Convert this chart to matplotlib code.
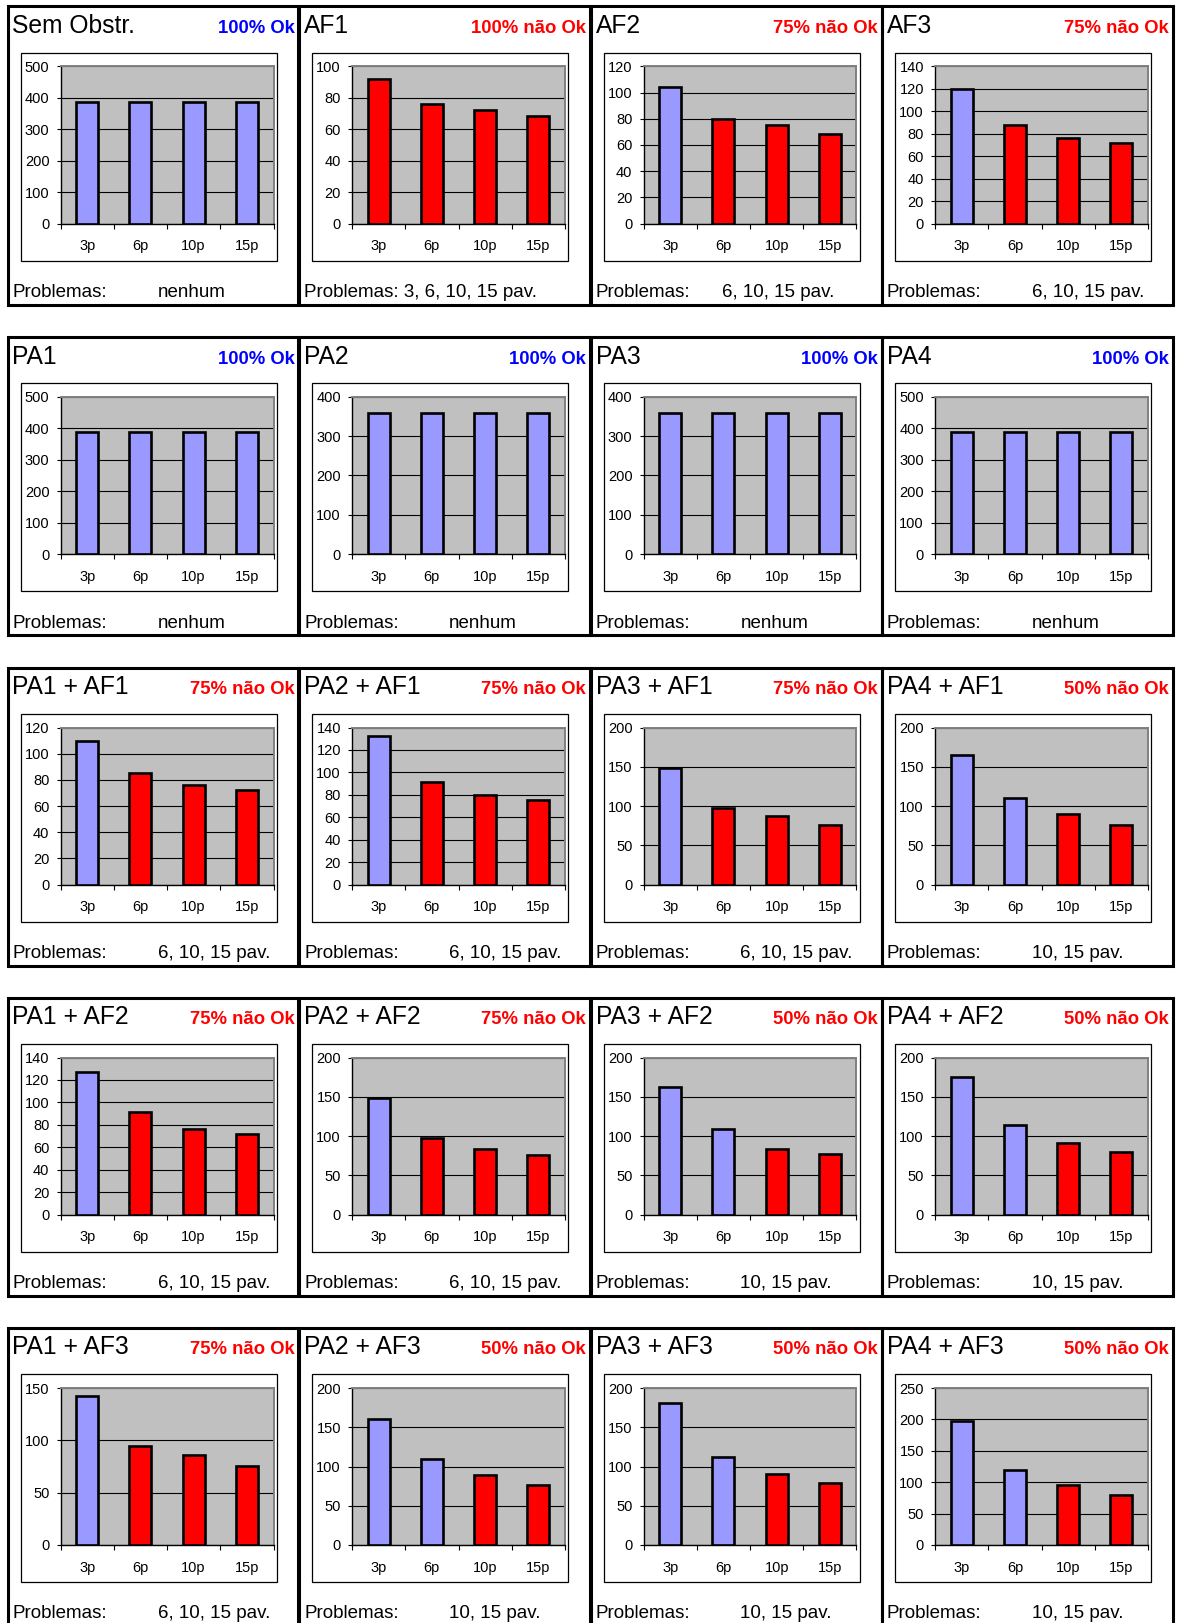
import matplotlib
matplotlib.use("Agg")
import matplotlib.pyplot as plt
from matplotlib.patches import Rectangle
from matplotlib.ticker import FixedLocator, MultipleLocator

plt.rcParams["font.family"] = ["Liberation Sans", "DejaVu Sans"]

# ---- data -------------------------------------------------------------
floors = ["3p", "6p", "10p", "15p"]
floor_numbers = [3, 6, 10, 15]

titles = [
    "Sem Obstr.", "AF1", "AF2", "AF3",
    "PA1", "PA2", "PA3", "PA4",
    "PA1 + AF1", "PA2 + AF1", "PA3 + AF1", "PA4 + AF1",
    "PA1 + AF2", "PA2 + AF2", "PA3 + AF2", "PA4 + AF2",
    "PA1 + AF3", "PA2 + AF3", "PA3 + AF3", "PA4 + AF3",
]

values = [
    [388, 388, 388, 388], [92, 76, 72, 68.5], [104, 80, 75.5, 68.5], [120, 88, 76, 72],
    [388, 388, 388, 388], [360, 360, 360, 360], [360, 360, 360, 360], [388, 388, 388, 388],
    [110, 85, 76, 72], [132, 91, 79.5, 75.5], [148, 97.5, 87.5, 75.5], [165.5, 110.5, 89.5, 76],
    [127, 91.5, 76.5, 72], [148, 98, 84, 75.5], [162, 108.5, 84, 76.5], [175, 114, 91, 79.5],
    [142.5, 95, 86, 75.5], [161, 109, 89, 76], [181, 112.5, 91, 79.5], [197.5, 119.5, 95, 79.5],
]

# 1 = floor passes, 0 = floor fails
ok_flags = [
    [1, 1, 1, 1], [0, 0, 0, 0], [1, 0, 0, 0], [1, 0, 0, 0],
    [1, 1, 1, 1], [1, 1, 1, 1], [1, 1, 1, 1], [1, 1, 1, 1],
    [1, 0, 0, 0], [1, 0, 0, 0], [1, 0, 0, 0], [1, 1, 0, 0],
    [1, 0, 0, 0], [1, 0, 0, 0], [1, 1, 0, 0], [1, 1, 0, 0],
    [1, 0, 0, 0], [1, 1, 0, 0], [1, 1, 0, 0], [1, 1, 0, 0],
]

y_max = [
    500, 100, 120, 140,
    500, 400, 400, 500,
    120, 140, 200, 200,
    140, 200, 200, 200,
    150, 200, 200, 250,
]
y_step = [
    100, 20, 20, 20,
    100, 100, 100, 100,
    20, 20, 50, 50,
    20, 50, 50, 50,
    50, 50, 50, 50,
]

# ---- styling ----------------------------------------------------------
W, H = 1178, 1623
COL_X = [7.5, 299, 590.5, 882]
ROW_Y = [6.5, 337, 667.5, 997.5, 1328]
PANEL_W, PANEL_H = 291, 298

BLUE_BAR = "#9999FF"
RED_BAR = "#FF0000"
PLOT_BG = "#C0C0C0"
OK_TEXT = "#0000FF"
BAD_TEXT = "#FF0000"

fig = plt.figure(figsize=(W / 100, H / 100), dpi=100)


def fx(x):
    return x / W


def fy(y):
    return 1 - y / H


def frame(x0, y0, x1, y1, lw, face="none", z=0):
    r = Rectangle((fx(x0), fy(y1)), (x1 - x0) / W, (y1 - y0) / H,
                  transform=fig.transFigure, facecolor=face,
                  edgecolor="black", linewidth=lw, zorder=z)
    fig.add_artist(r)


for idx, title in enumerate(titles):
    r, c = divmod(idx, 4)
    px, py = COL_X[c], ROW_Y[r]

    # panel outline and white chart box
    frame(px, py, px + PANEL_W, py + PANEL_H, 2.2, z=5)
    frame(px + 13, py + 46, px + 269, py + 254, 0.9, face="white", z=1)

    flags = ok_flags[idx]
    n_bad = flags.count(0)
    pct_bad = round(100 * n_bad / len(flags))
    if n_bad == 0:
        status, scol = "100% Ok", OK_TEXT
    else:
        status, scol = f"{pct_bad}% não Ok", BAD_TEXT

    fig.text(fx(px + 5), fy(py + 26.5), title, fontsize=17.7,
             ha="left", va="baseline", zorder=6)
    fig.text(fx(px + 287), fy(py + 26.5), status, fontsize=13.3,
             fontweight="bold", color=scol, ha="right", va="baseline", zorder=6)

    bad_floors = [f for f, k in zip(floor_numbers, flags) if k == 0]
    if not bad_floors:
        detail = "nenhum"
    else:
        detail = ", ".join(str(f) for f in bad_floors) + " pav."
    if n_bad == len(flags):
        fig.text(fx(px + 5), fy(py + 290.5), "Problemas: " + detail,
                 fontsize=13.5, ha="left", va="baseline", zorder=6)
    else:
        fig.text(fx(px + 5), fy(py + 290.5), "Problemas:", fontsize=13.5,
                 ha="left", va="baseline", zorder=6)
        dx = 131 if title == "AF2" else 150
        fig.text(fx(px + dx), fy(py + 290.5), detail, fontsize=13.5,
                 ha="left", va="baseline", zorder=6)

    # bar chart
    ax = fig.add_axes([fx(px + 53), fy(py + 217), 213 / W, 157 / H], zorder=3)
    ax.set_facecolor(PLOT_BG)
    xs = list(range(len(floors)))
    colors = [BLUE_BAR if k else RED_BAR for k in flags]
    ax.bar(xs, values[idx], width=0.41, color=colors, edgecolor="black",
           linewidth=1.9, zorder=3)
    ax.set_xlim(-0.5, len(floors) - 0.5)
    ax.set_ylim(0, y_max[idx])
    ax.yaxis.set_major_locator(MultipleLocator(y_step[idx]))
    ax.grid(axis="y", color="black", linewidth=0.8, zorder=1)
    ax.set_axisbelow(True)

    ax.set_xticks(xs)
    ax.set_xticklabels(floors)
    ax.xaxis.set_minor_locator(FixedLocator([x - 0.5 for x in range(len(floors) + 1)]))
    ax.tick_params(axis="x", which="major", length=0, pad=11.5, labelsize=10.5)
    ax.tick_params(axis="x", which="minor", length=3.5, width=0.8, direction="out")
    ax.tick_params(axis="y", which="major", length=3, width=0.8, pad=5,
                   labelsize=10.5, direction="out")

    for side in ("left", "bottom"):
        ax.spines[side].set_color("black")
        ax.spines[side].set_linewidth(1.0)
    for side in ("top", "right"):
        ax.spines[side].set_color("#808080")
        ax.spines[side].set_linewidth(1.4)

fig.savefig("out.png", dpi=100)
